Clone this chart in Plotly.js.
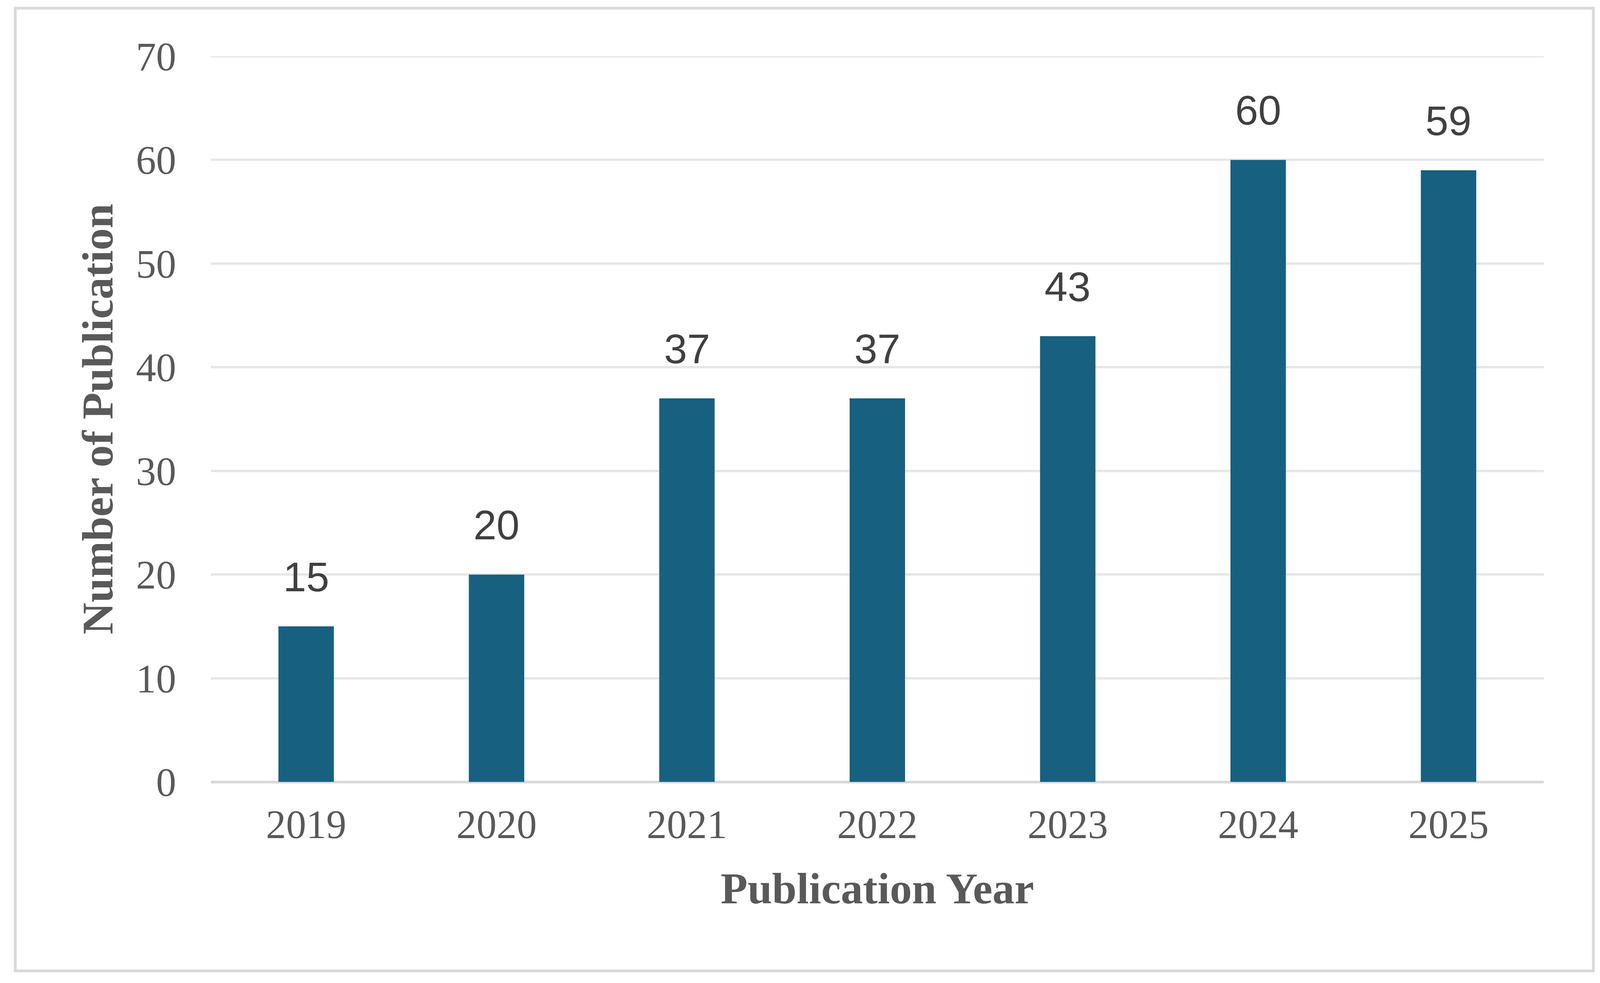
<!DOCTYPE html>
<html>
<head>
<meta charset="utf-8">
<script src="https://cdn.plot.ly/plotly-3.0.1.min.js"></script>
<style>
  html, body { margin: 0; padding: 0; background: #ffffff; }
  #chart { width: 4113px; height: 2517px; }
</style>
</head>
<body>
<div id="chart"></div>
<script>
const years = ["2019", "2020", "2021", "2022", "2023", "2024", "2025"];
const publications = [15, 20, 37, 37, 43, 60, 59];
const yTickValues = [0, 10, 20, 30, 40, 50, 60, 70];
const xTitle = "Publication Year";
const yTitle = "Number of Publication";

const barTrace = {
  type: "bar",
  x: years,
  y: publications,
  marker: { color: "#17607f" },
  hoverinfo: "x+y",
  showlegend: false
};

// value labels placed by category index on the category axis
const labelAnnotations = publications.map((v, i) => ({
  x: i,
  y: v,
  xref: "x",
  yref: "y",
  text: String(v),
  showarrow: false,
  xanchor: "center",
  yanchor: "bottom",
  yshift: 66,
  font: { family: "Liberation Sans, Arial, sans-serif", size: 106, color: "#404040" }
}));

const layout = {
  width: 4113,
  height: 2517,
  paper_bgcolor: "#ffffff",
  plot_bgcolor: "#ffffff",
  margin: { l: 540, r: 161, t: 144, b: 515, pad: 0 },
  bargap: 0.709,
  xaxis: {
    type: "category",
    categoryorder: "array",
    categoryarray: years,
    range: [-0.5, years.length - 0.5],
    autorange: false,
    showgrid: false,
    showline: false,
    zeroline: false,
    ticks: "",
    ticklabelstandoff: 40,
    tickfont: { family: "Liberation Serif, Times New Roman, serif", size: 103, color: "#595959" },
    title: {
      text: xTitle,
      standoff: 66,
      font: { family: "Liberation Serif, Times New Roman, serif", size: 113, color: "#595959", weight: "bold" }
    },
    automargin: false
  },
  yaxis: {
    range: [0, 70],
    autorange: false,
    tickvals: yTickValues,
    ticktext: yTickValues.map(String),
    showgrid: true,
    gridcolor: "#e6e6e6",
    gridwidth: 6,
    zeroline: true,
    zerolinecolor: "#d9d9d9",
    zerolinewidth: 7,
    showline: false,
    ticks: "",
    ticklabelstandoff: 88,
    tickfont: { family: "Liberation Serif, Times New Roman, serif", size: 103, color: "#595959" },
    title: {
      text: yTitle,
      standoff: 21,
      font: { family: "Liberation Serif, Times New Roman, serif", size: 113, color: "#595959", weight: "bold" }
    },
    automargin: false
  },
  annotations: labelAnnotations,
  shapes: [
    {
      type: "line",
      xref: "paper",
      yref: "y",
      x0: 0, x1: 1,
      y0: 70, y1: 70,
      line: { color: "#e6e6e6", width: 6 },
      layer: "below"
    },
    {
      type: "rect",
      xref: "paper",
      yref: "paper",
      x0: (39 - 540) / 3412,
      x1: (4079 - 540) / 3412,
      y0: (2002 - 2486) / 1858,
      y1: (2002 - 21) / 1858,
      line: { color: "#d9d9d9", width: 7 },
      fillcolor: "rgba(0,0,0,0)",
      layer: "below"
    }
  ]
};

Plotly.newPlot("chart", [barTrace], layout, { displayModeBar: false, staticPlot: true });
</script>
</body>
</html>
